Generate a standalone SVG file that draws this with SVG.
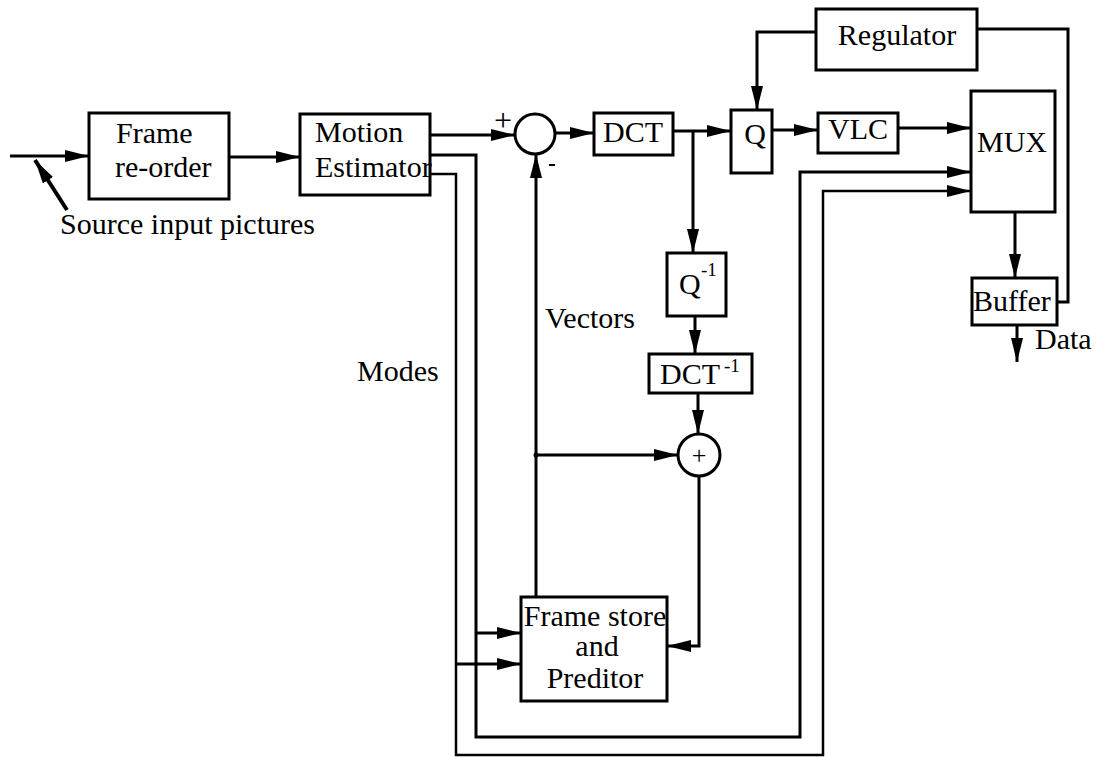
<svg xmlns="http://www.w3.org/2000/svg" width="1097" height="757" viewBox="0 0 1097 757">
<style>
.box{fill:#fff;stroke:#000;stroke-width:3}
.ln{fill:none;stroke:#000;stroke-width:3}
.t{font-family:"Liberation Serif","Times New Roman",serif;font-size:30px;fill:#000}
.m{text-anchor:middle}
.sup{font-family:"Liberation Serif","Times New Roman",serif;font-size:19px;fill:#000}
</style>
<defs>
<marker id="ar" markerUnits="userSpaceOnUse" markerWidth="26" markerHeight="14" refX="24" refY="6" orient="auto">
<path d="M0,0 L24,6 L0,12 Z" fill="#000"/>
</marker>
</defs>
<rect width="1097" height="757" fill="#fff"/>
<g id="connectors">
<path class="ln" d="M10,156 H89" marker-end="url(#ar)"/>
<path class="ln" d="M67,210 L35,160" style="stroke-width:4" marker-end="url(#ar)"/>
<path class="ln" d="M229,157 H300" marker-end="url(#ar)"/>
<path class="ln" d="M430,135 H515" marker-end="url(#ar)"/>
<path class="ln" d="M430,155 H476 V737 H800 V172 H971" marker-end="url(#ar)"/>
<path class="ln" d="M430,174 H456 V755 H823 V191 H971" style="stroke-width:2.5" marker-end="url(#ar)"/>
<path class="ln" d="M476,633 H521" marker-end="url(#ar)"/>
<path class="ln" d="M456,664 H521" marker-end="url(#ar)"/>
<path class="ln" d="M555,133 H594" marker-end="url(#ar)"/>
<path class="ln" d="M673,131 H731" marker-end="url(#ar)"/>
<path class="ln" d="M693,131 V253" marker-end="url(#ar)"/>
<path class="ln" d="M695,316 V354" marker-end="url(#ar)"/>
<path class="ln" d="M698,393 V434" marker-end="url(#ar)"/>
<path class="ln" d="M536,597 V154" marker-end="url(#ar)"/>
<path class="ln" d="M536,455 H678" marker-end="url(#ar)"/>
<circle cx="536" cy="455" r="2.5" fill="#000"/>
<path class="ln" d="M699,476 V646 H667" marker-end="url(#ar)"/>
<path class="ln" d="M772,130 H818" marker-end="url(#ar)"/>
<path class="ln" d="M898,128 H971" marker-end="url(#ar)"/>
<path class="ln" d="M1015,212 V278" marker-end="url(#ar)"/>
<path class="ln" d="M1017,325 V362" marker-end="url(#ar)"/>
<path class="ln" d="M1057,302 H1068 V29 H977"/>
<path class="ln" d="M817,32 H757 V110" marker-end="url(#ar)"/>
</g>
<g id="frame-reorder">
<rect class="box" x="89" y="113" width="140" height="86"/>
<text class="t" x="116" y="143">Frame</text>
<text class="t" x="115" y="177">re-order</text>
</g>
<g id="motion-estimator">
<rect class="box" x="300" y="114" width="130" height="81"/>
<text class="t" x="315" y="142">Motion</text>
<text class="t" x="315" y="177">Estimator</text>
</g>
<g id="sum">
<circle class="box" cx="535" cy="134" r="20"/>
<text class="t" x="503" y="131" style="font-size:32px" text-anchor="middle">+</text>
<path d="M549,165 H555" stroke="#000" stroke-width="2"/>
</g>
<g id="dct">
<rect class="box" x="594" y="113" width="79" height="42"/>
<text class="t m" x="633" y="142">DCT</text>
</g>
<g id="q">
<rect class="box" x="731" y="110" width="41" height="63"/>
<text class="t m" x="755" y="144">Q</text>
</g>
<g id="vlc">
<rect class="box" x="818" y="113" width="80" height="40"/>
<text class="t m" x="858" y="139">VLC</text>
</g>
<g id="regulator">
<rect class="box" x="816" y="9" width="161" height="61"/>
<text class="t m" x="897" y="45">Regulator</text>
</g>
<g id="mux">
<rect class="box" x="971" y="91" width="84" height="121"/>
<text class="t m" x="1012" y="152">MUX</text>
</g>
<g id="buffer">
<rect class="box" x="972" y="278" width="85" height="47"/>
<text class="t" x="973" y="311">Buffer</text>
</g>
<g id="qinv">
<rect class="box" x="667" y="253" width="59" height="63"/>
<text class="t" x="679" y="294">Q</text>
<text class="sup" x="701" y="276">-1</text>
</g>
<g id="dctinv">
<rect class="box" x="649" y="354" width="103" height="39"/>
<text class="t" x="660" y="384">DCT</text>
<text class="sup" x="724" y="372">-1</text>
</g>
<g id="add">
<circle class="box" cx="699" cy="455" r="21"/>
<text class="t m" x="699" y="464" style="font-size:26px">+</text>
</g>
<g id="frame-store">
<rect class="box" x="521" y="597" width="146" height="104"/>
<text class="t m" x="595" y="626">Frame store</text>
<text class="t m" x="597" y="656">and</text>
<text class="t m" x="595" y="688">Preditor</text>
</g>
<g id="labels">
<text class="t" x="60" y="234">Source input pictures</text>
<text class="t" x="545" y="328">Vectors</text>
<text class="t" x="357" y="381">Modes</text>
<text class="t" x="1035" y="349">Data</text>
</g>
</svg>
